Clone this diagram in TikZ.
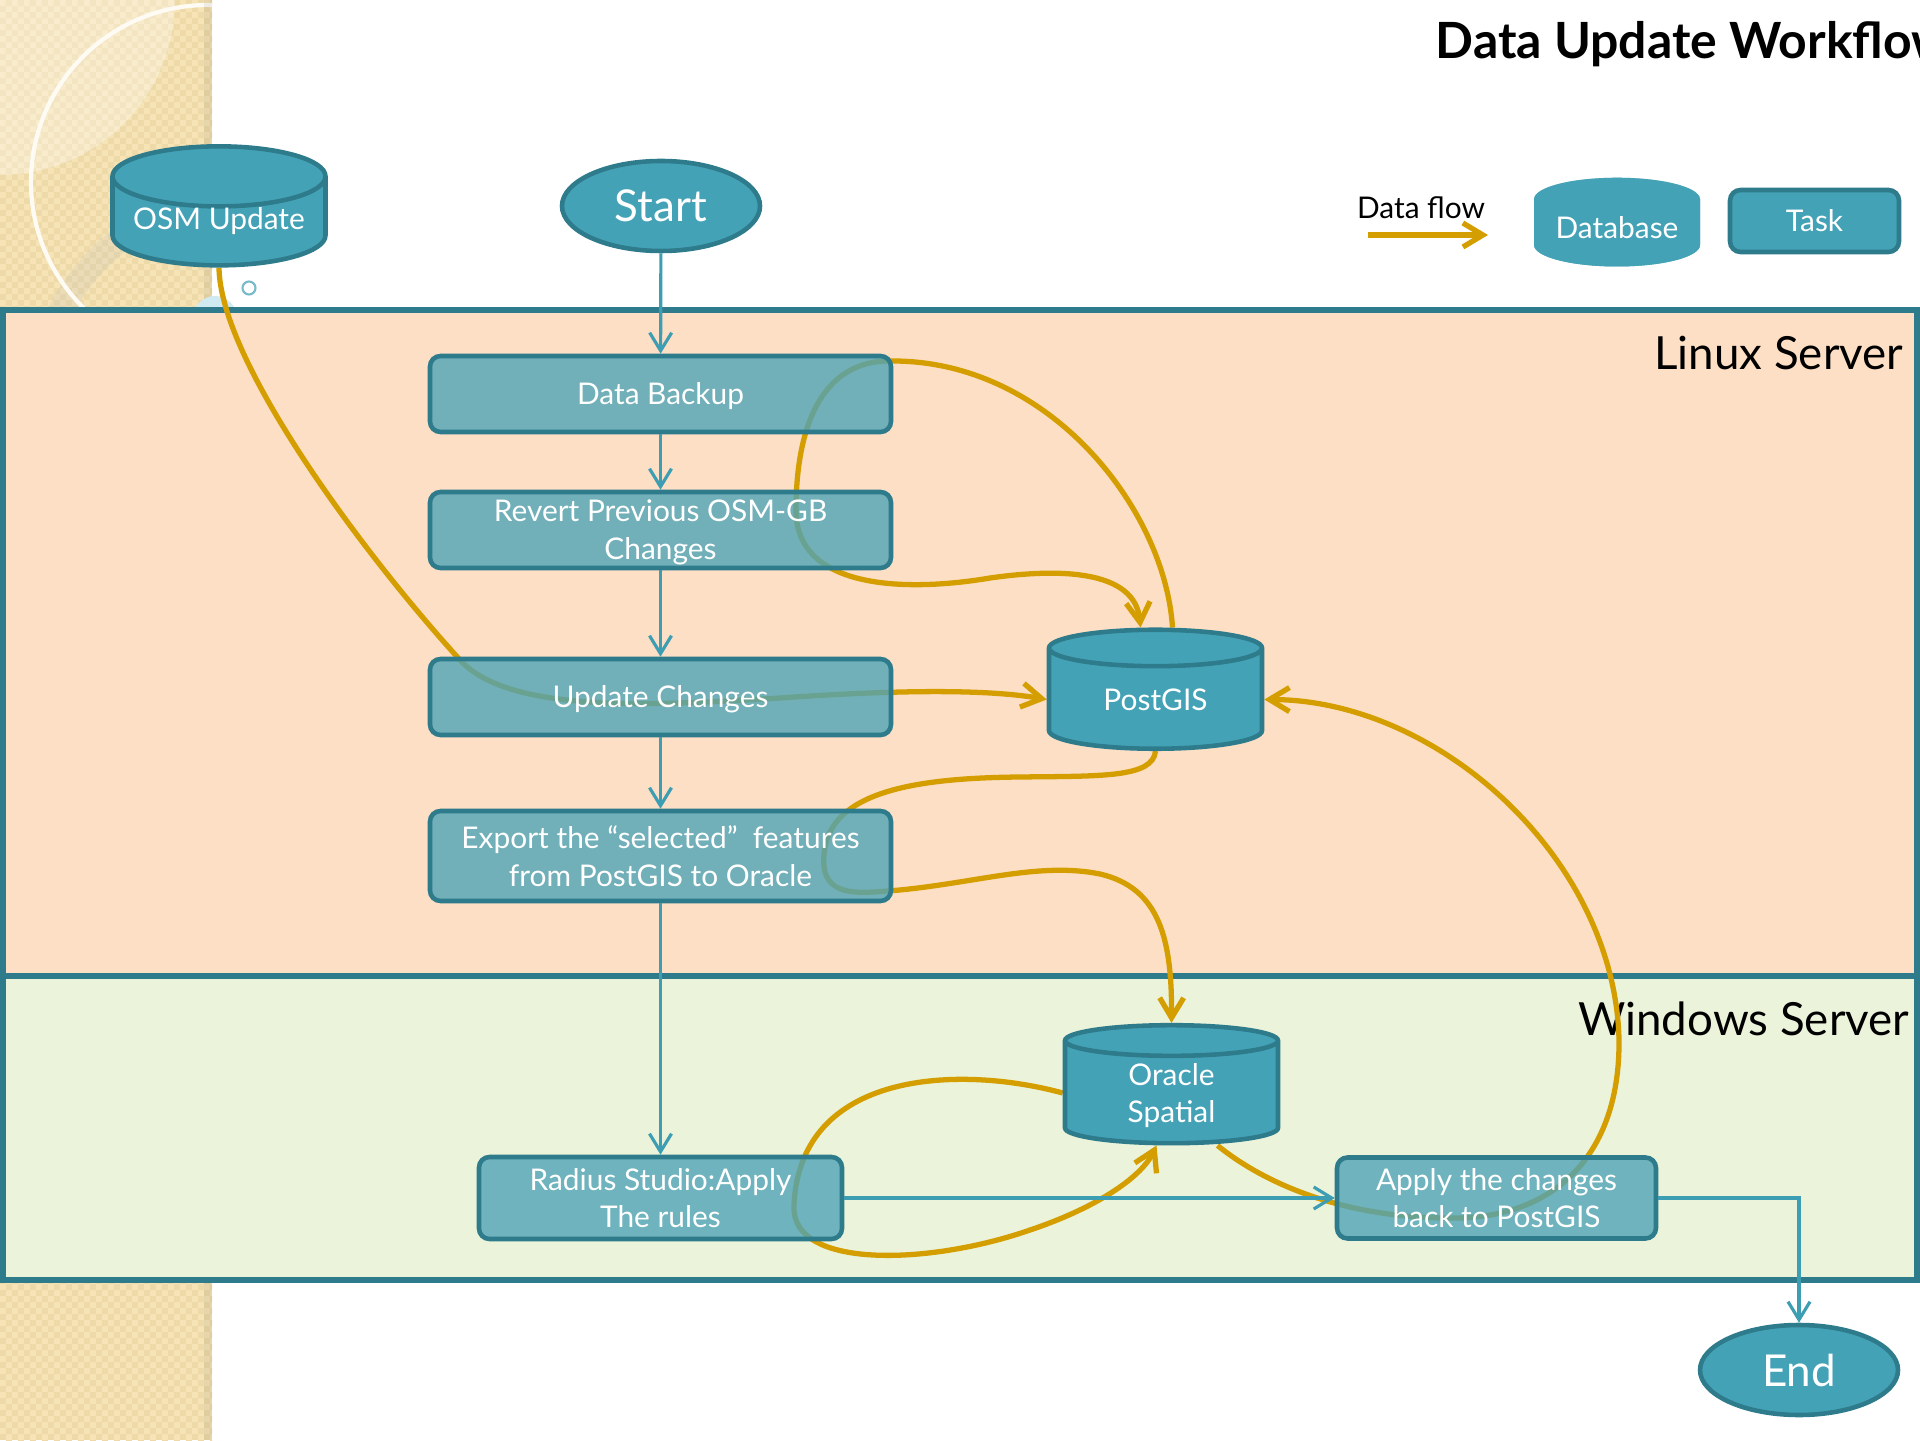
\documentclass[tikz,border=0pt]{standalone}
\usepackage{fontspec}
\setmainfont{Lato}
\usetikzlibrary{arrows.meta,shapes.geometric,patterns}

\definecolor{tealline}{RGB}{61,157,179}
\definecolor{tealdark}{RGB}{46,123,140}
\definecolor{tealfill}{RGB}{68,162,183}
\definecolor{boxfill}{RGB}{79,164,182}
\definecolor{dbtop}{RGB}{157,202,213}
\definecolor{flowgold}{RGB}{212,158,0}
\definecolor{linuxbg}{RGB}{253,223,197}
\definecolor{winbg}{RGB}{235,243,218}
\definecolor{stripbg}{RGB}{246,228,182}
\definecolor{stripdot}{RGB}{238,218,168}
\definecolor{bubble}{RGB}{208,234,242}

% fine checker of the slide template
\pgfdeclarepatternformonly{tinycheck}{\pgfpointorigin}{\pgfqpoint{3.4pt}{3.4pt}}%
  {\pgfqpoint{3.4pt}{3.4pt}}{%
  \pgfpathrectangle{\pgfpointorigin}{\pgfqpoint{1.7pt}{1.7pt}}%
  \pgfpathrectangle{\pgfqpoint{1.7pt}{1.7pt}}{\pgfqpoint{1.7pt}{1.7pt}}%
  \pgfusepath{fill}}

\pgfdeclarelayer{bg}
\pgfdeclarelayer{flows}
\pgfsetlayers{bg,flows,main}

\begin{document}
\begin{tikzpicture}[->,>={Straight Barb[length=1.8mm,width=2.2mm]},
    every node/.style={text=white,font=\fontsize{8.5}{10.8}\selectfont},
    task/.style={rectangle,rounded corners=3pt,draw=tealdark,line width=1.3pt,
      fill=boxfill,fill opacity=0.8,text opacity=1,align=center,inner sep=0pt,
      text depth=-1.2mm,minimum width=4.61cm,minimum height=0.76cm},
    db/.style={cylinder,shape border rotate=90,aspect=0.35,draw=tealdark,
      line width=1.3pt,fill=tealfill,align=center,inner sep=0pt,text depth=-1.8mm,
      minimum width=2.13cm,minimum height=1.19cm},
    term/.style={ellipse,draw=tealdark,line width=1.3pt,fill=tealfill,text depth=-1.6mm,
      minimum width=1.98cm,minimum height=0.9cm,font=\fontsize{12.5}{14}\selectfont},
    zone/.style={draw=tealdark,line width=1.7pt},
    zonelabel/.style={text=black,anchor=base east,inner sep=0pt,
      font=\fontsize{13}{15}\selectfont},
    conn/.style={draw=tealline,line width=0.9pt},
    flow/.style={draw=flowgold,line width=1.5pt,>={Straight Barb[length=2mm,width=2.4mm]}}]
  \useasboundingbox (0,0) rectangle (19.2,14.4);
  \clip (0,0) rectangle (19.2,14.4);

  \begin{pgfonlayer}{bg}
    % template strip on the left
    \begin{scope}
      \clip (0,0) rectangle (2.12,14.4);
      \fill[stripbg] (0,0) rectangle (2.12,14.4);
      \fill[pattern=tinycheck,pattern color=stripdot] (0,0) rectangle (2.12,14.4);
      \fill[white,opacity=0.3] (0,14.4) circle (1.75);
      \draw[black!25,line width=0.25cm,opacity=0.2] (2.4,10.4) circle (2.0);
      \draw[white!85!stripbg,line width=1.2pt] (2.08,12.58) circle (1.77);
      \fill[black,opacity=0.06] (2.04,0) rectangle (2.12,14.4);
    \end{scope}
    \fill[bubble] (2.15,11.22) circle (0.22);
    \draw[tealline!70,line width=0.6pt] (2.49,11.52) circle (0.065);
    % server zones
    \draw[zone,fill=linuxbg] (0.03,4.64) rectangle (19.17,11.30);
    \draw[zone,fill=winbg] (0.03,1.60) rectangle (19.17,4.64);
    \node[zonelabel] (linux) at (19.04,10.70) {Linux Server};
    \node[zonelabel] (windows) at (19.10,4.05) {Windows Server};
  \end{pgfonlayer}

  \node[text=black,anchor=base west,inner sep=0pt,
    font=\fontsize{14.2}{16}\selectfont\bfseries]
    (title) at (14.35,13.81) {Data Update Workflow};

  % legend
  \node[text=black,anchor=base] (flowlbl) at (14.21,12.21) {Data flow};
  \coordinate (fl1) at (13.68,12.05);
  \coordinate (fl2) at (14.88,12.05);
  \draw[flow] (fl1) -- (fl2);
  \node[db,draw=none,cylinder uses custom fill,cylinder body fill=tealfill,
    cylinder end fill=dbtop,text depth=0pt,minimum width=1.66cm,minimum height=0.86cm]
    (dbkey) at (16.17,12.06) {\raisebox{0.6mm}[\height][\depth]{Database}};
  \node[task,fill=tealfill,fill opacity=1,minimum width=1.69cm,minimum height=0.62cm]
    (taskkey) at (18.145,12.19) {Task};

  % workflow
  \node[db,text depth=-1.2mm] (osm) at (2.19,12.18)
    {\raisebox{0.35mm}[\height][\depth]{OSM Update}};
  \node[term] (start) at (6.61,12.34) {Start};
  \node[task] (backup) at (6.605,10.46) {Data Backup};
  \node[task] (revert) at (6.605,9.10) {Revert Previous OSM-GB\\Changes};
  \node[task] (update) at (6.605,7.43) {Update Changes};
  \node[task,minimum height=0.9cm] (export) at (6.605,5.84)
    {Export the “selected”\ \ features\\from PostGIS to Oracle};
  \node[db] (pg) at (11.555,7.405) {PostGIS};
  \node[db,minimum height=1.18cm] (orc) at (11.715,3.47) {Oracle\\Spatial};
  \node[task,minimum width=3.63cm,minimum height=0.82cm] (radius) at (6.605,2.42)
    {Radius Studio:Apply\\The rules};
  \node[task,minimum width=3.19cm,minimum height=0.81cm] (apply) at (14.965,2.42)
    {Apply the changes\\back to PostGIS};
  \node[term] (end) at (17.99,0.70) {End};

  \path[conn] (start) edge (backup)
              (backup) edge (revert)
              (revert) edge (update)
              (update) edge (export)
              (export) edge (radius)
              (radius) edge (apply);
  \draw[conn] (apply) -| (end);

  \begin{pgfonlayer}{flows}
    % OSM Update -> Update Changes -> PostGIS
    \draw[flow] (osm.south) .. controls (2.2,10.8) and (3.6,8.9) .. (4.6,7.8)
      .. controls (5.1,7.25) and (6.6,7.35) .. (7.8,7.42)
      .. controls (8.8,7.49) and (9.8,7.52) .. (pg.west);
    % PostGIS -> Data Backup -> Revert -> PostGIS
    \draw[flow] ([xshift=1.7mm]pg.north) .. controls (11.65,9.3) and (10.5,10.8) .. (8.91,10.79)
      .. controls (8.2,10.8) and (7.96,10.1) .. (7.96,9.3)
      .. controls (7.96,8.45) and (9.2,8.5) .. (9.9,8.62)
      .. controls (10.6,8.72) and (11.35,8.7) .. ([xshift=-1.5mm]pg.north);
    % PostGIS -> Export -> Oracle
    \draw[flow] (pg.south) .. controls (11.53,6.62) and (11.0,6.64) .. (10.2,6.63)
      .. controls (9.2,6.62) and (8.28,6.5) .. (8.24,5.85)
      .. controls (8.2,5.4) and (8.6,5.47) .. (9.0,5.5)
      .. controls (9.8,5.58) and (10.4,5.78) .. (11.0,5.66)
      .. controls (11.6,5.52) and (11.72,5.0) .. (orc.north);
    % Oracle -> Radius Studio -> Oracle
    \draw[flow] (orc.west) .. controls (9.6,3.75) and (8.0,3.7) .. (7.94,2.35)
      .. controls (7.9,1.7) and (9.3,1.75) .. (10.3,2.1)
      .. controls (10.9,2.3) and (11.4,2.6) .. ([xshift=-1.5mm]orc.south);
    % Oracle -> Apply -> PostGIS
    \draw[flow] ([xshift=4.6mm]orc.south) .. controls (12.6,2.6) and (13.4,2.2) .. (14.6,2.22)
      .. controls (15.6,2.25) and (16.2,2.9) .. (16.19,4.0)
      .. controls (16.15,5.8) and (14.4,7.4) .. (pg.east);
  \end{pgfonlayer}
\end{tikzpicture}
\end{document}
